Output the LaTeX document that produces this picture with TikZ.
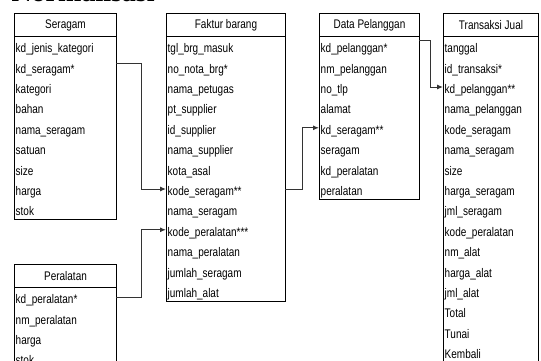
\documentclass[tikz,border=0pt]{standalone}
\usepackage{fontspec}
\setmainfont[FakeStretch=0.8]{Liberation Sans}
\newfontfamily\headfont{Liberation Serif}
\usetikzlibrary{arrows.meta}
\tikzset{
  tabhead/.style = {draw, line width=1pt, anchor=north west, minimum height=23pt, inner sep=0pt,
    font=\fontsize{12.5}{14}\selectfont},
  tabrow/.style = {anchor=west, minimum height=20.4pt, inner sep=1.5pt, align=left,
    text height=13pt, text depth=0pt, font=\fontsize{12.5}{14}\selectfont},
  link/.style = {draw=black!80, line width=1pt, -{Latex[length=6pt,width=5pt]}}
}

\begin{document}
\begin{tikzpicture}[x=1pt, y=-1pt]
  \useasboundingbox (0,0) rectangle (541,360);
  % judul, terpotong di tepi atas
  \node [anchor=base west, font=\headfont\bfseries\fontsize{28}{28}\selectfont] (judul) at (8,1) {Normalisasi};

  % Seragam
  \node [tabhead, minimum width=102pt] (ser) at (14,13) {Seragam};
  \draw [line width=1pt] (14,36) rectangle (116,219.6);
  \foreach \t [count=\i] in {kd\_jenis\_kategori, kd\_seragam*, kategori, bahan, nama\_seragam,
      satuan, size, harga, stok}
    \node [tabrow, text width=99pt] (ser-\i) at (14,{36+(\i-0.5)*20.4}) {\t};

  % Peralatan
  \node [tabhead, minimum width=102pt] (per) at (14,264) {Peralatan};
  \draw [line width=1pt] (14,287) rectangle (116,375);
  \foreach \t [count=\i] in {kd\_peralatan*, nm\_peralatan, harga, stok}
    \node [tabrow, text width=99pt] (per-\i) at (14,{287+(\i-0.5)*20.4}) {\t};

  % Faktur barang
  \node [tabhead, minimum width=119pt] (fak) at (166,13) {Faktur barang};
  \draw [line width=1pt] (166,36) rectangle (285,301.2);
  \foreach \t [count=\i] in {tgl\_brg\_masuk, no\_nota\_brg*, nama\_petugas, pt\_supplier,
      id\_supplier, nama\_supplier, kota\_asal, kode\_seragam**, nama\_seragam,
      kode\_peralatan***, nama\_peralatan, jumlah\_seragam, jumlah\_alat}
    \node [tabrow, text width=116pt] (fak-\i) at (166,{36+(\i-0.5)*20.4}) {\t};

  % Data Pelanggan
  \node [tabhead, minimum width=100pt] (pel) at (319,13) {Data Pelanggan};
  \draw [line width=1pt] (319,36) rectangle (419,199.2);
  \foreach \t [count=\i] in {kd\_pelanggan*, nm\_pelanggan, no\_tlp, alamat, kd\_seragam**,
      seragam, kd\_peralatan, peralatan}
    \node [tabrow, text width=97pt] (pel-\i) at (319,{36+(\i-0.5)*20.4}) {\t};

  % Transaksi Jual
  \node [tabhead, minimum width=95pt] (trx) at (443,13) {Transaksi Jual};
  \draw [line width=1pt] (443,36) rectangle (538,366);
  \foreach \t [count=\i] in {tanggal, id\_transaksi*, kd\_pelanggan**, nama\_pelanggan,
      kode\_seragam, nama\_seragam, size, harga\_seragam, jml\_seragam, kode\_peralatan,
      nm\_alat, harga\_alat, jml\_alat, Total, Tunai, Kembali}
    \node [tabrow, text width=92pt] (trx-\i) at (443,{36+(\i-0.5)*20.4}) {\t};

  % relasi
  \draw [link] ([yshift=3pt]ser-2.east) -- ++(25,0) |- (fak-8.west);
  \draw [link] (per-1.east) -- ++(25,0) |- (fak-10.west);
  \draw [link] (fak-8.east) -- ++(17,0) |- (pel-5.west);
  \draw [link] ([yshift=6pt]pel-1.east) -- ++(11,0) |- (trx-3.west);
\end{tikzpicture}
\end{document}
